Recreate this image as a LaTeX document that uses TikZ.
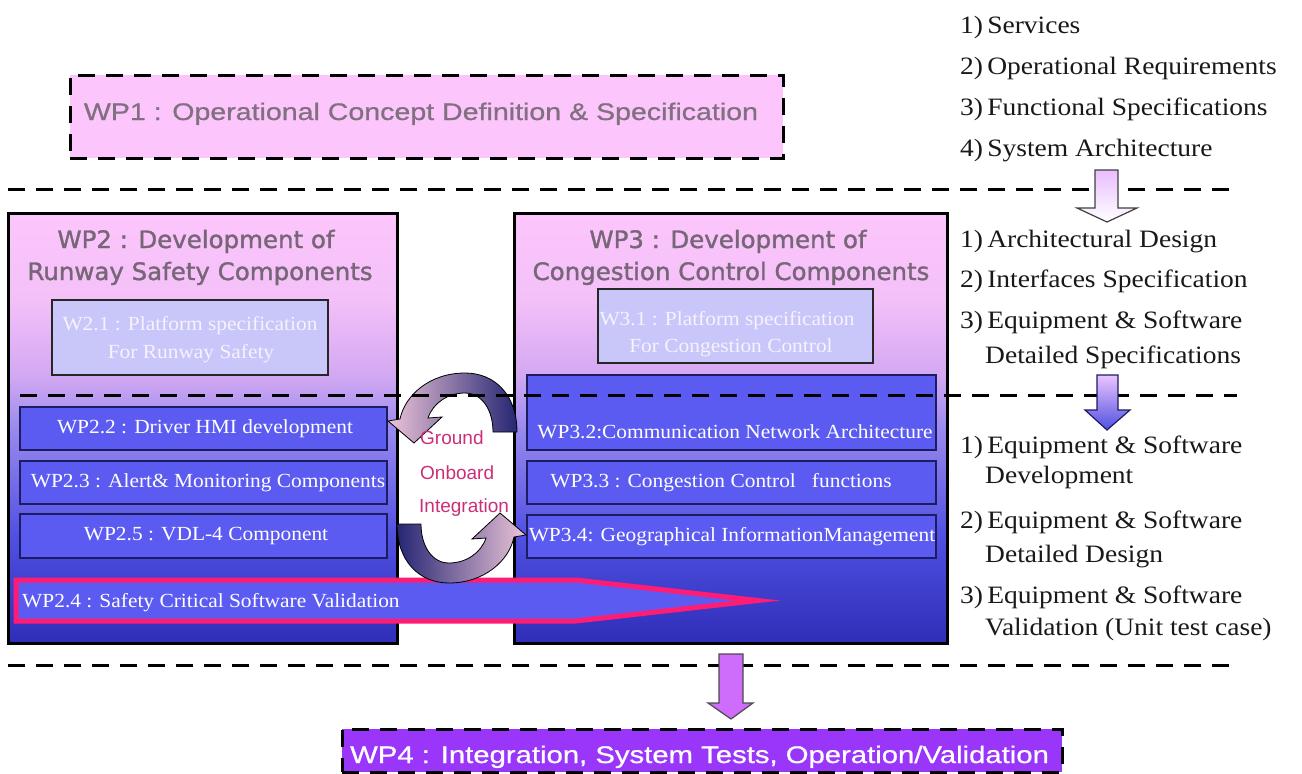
\documentclass[tikz,border=0pt]{standalone}
\usepackage{fontspec}
\newfontfamily\titlefont{DejaVu Sans}[FakeBold=1.4, FakeStretch=1.02]
\newfontfamily\headfont{Liberation Sans}[FakeStretch=1.19, FakeBold=0.8]
\newfontfamily\headfontw{Liberation Sans}[FakeStretch=1.22, FakeBold=0.8]
\newfontfamily\boxfont{Liberation Serif}[FakeStretch=1.07]
\newfontfamily\listfont{Liberation Serif}[FakeStretch=1.1]
\newfontfamily\midfont{Liberation Sans}

\definecolor{wppink}{HTML}{FCC6FC}
\definecolor{wppinkb}{HTML}{F4C0F8}
\definecolor{wplav}{HTML}{D2A8F2}
\definecolor{wpmid}{HTML}{9A8AEE}
\definecolor{wpblue}{HTML}{5050E2}
\definecolor{wpbot}{HTML}{2E2EB8}
\definecolor{taskblue}{HTML}{5B5BF2}
\definecolor{navyedge}{HTML}{1C1C60}
\definecolor{speclav}{HTML}{C9C7FA}
\definecolor{spectxt}{HTML}{F6F2FF}
\definecolor{titlegray}{HTML}{776677}
\definecolor{headgray}{HTML}{807080}
\definecolor{loopred}{HTML}{CC2F78}
\definecolor{loopnavy}{HTML}{262673}
\definecolor{looppink}{HTML}{ECC4D8}
\definecolor{arrowpink}{HTML}{FF1C74}
\definecolor{wpviolet}{HTML}{9A36FA}
\definecolor{stepviolet}{HTML}{CE6CFC}

% package box fill: pink at the top, deep blue at the bottom
\pgfdeclareverticalshading{wpfade}{100bp}{color(0bp)=(wpbot); color(25bp)=(wpbot); color(37.5bp)=(wpblue); color(50bp)=(wpmid); color(56bp)=(wplav); color(65bp)=(wppinkb); color(75bp)=(wppink); color(100bp)=(wppink)}

\begin{document}
\begin{tikzpicture}[x=1pt,y=-1pt,
  wpdash/.style={dash pattern=on 17pt off 11pt, line width=3pt},
  pkgbox/.style={draw=black, line width=3pt, shading=wpfade, inner sep=0pt},
  wpbox/.style={draw=black, wpdash, inner sep=0pt},
  taskbox/.style={draw=navyedge, line width=1.8pt, fill=taskblue, inner sep=0pt},
  specbox/.style={draw=black!85, line width=2pt, fill=speclav, inner sep=0pt},
  tasktext/.style={text=white, font=\boxfont\fontsize{20}{24}\selectfont, inner sep=0pt},
  spectext/.style={text=spectxt, font=\boxfont\fontsize{20}{24}\selectfont, inner sep=0pt, anchor=base},
  titletext/.style={text=titlegray, font=\titlefont\fontsize{24}{28}\selectfont, inner sep=0pt, anchor=base},
  listtext/.style={text=black!90, font=\listfont\fontsize{25}{30}\selectfont, inner sep=0pt, anchor=base west},
  looptext/.style={text=loopred, font=\midfont\fontsize{19}{22}\selectfont, inner sep=0pt, anchor=base west},
  blockarrow/.style={line width=1.2pt, line join=miter},
  looparrow/.style={draw=black, line width=0.8pt},
]
\useasboundingbox (0,0) rectangle (1302,774);
\fill[white] (0,0) rectangle (1302,774);

% ---------- WP1 ----------
\node[wpbox, fill=wppink, minimum width=713pt, minimum height=83pt] (wp1) at (426.5,116.5) {};
\node[anchor=base, text=headgray, font=\headfont\fontsize{24}{28}\selectfont, inner sep=0pt] (wp1t) at (421,120) {WP1 : Operational Concept Definition \& Specification};

% ---------- phase list ----------
\node[listtext] (la1) at (960,33) {1)\,Services};
\node[listtext] (la2) at (960,74) {2)\,Operational Requirements};
\node[listtext] (la3) at (960,115) {3)\,Functional Specifications};
\node[listtext] (la4) at (960,156) {4)\,System Architecture};

\node[listtext] (lb1) at (960,247) {1)\,Architectural Design};
\node[listtext] (lb2) at (960,287) {2)\,Interfaces Specification};
\node[listtext] (lb3) at (960,328) {3)\,Equipment \& Software};
\node[listtext] (lb3b) at (985,363) {Detailed Specifications};

\node[listtext] (lc1) at (960,453) {1)\,Equipment \& Software};
\node[listtext] (lc1b) at (985,483) {Development};
\node[listtext] (lc2) at (960,528) {2)\,Equipment \& Software};
\node[listtext] (lc2b) at (985,562) {Detailed Design};
\node[listtext] (lc3) at (960,603) {3)\,Equipment \& Software};
\node[listtext] (lc3b) at (985,635) {Validation (Unit test case)};

% ---------- separator 1 and first phase arrow ----------
\coordinate (sepAa) at (8,189);
\coordinate (sepAb) at (1237,189);
\draw[wpdash] (sepAa) -- (sepAb);
\path[blockarrow, draw=black!75, top color=stepviolet!45, bottom color=white]
  (1095,170) -- (1118,170) -- (1118,208) -- (1137,208) -- (1107,222) -- (1077,208) -- (1095,208) -- cycle;

% ---------- WP2 and WP3 ----------
\node[pkgbox, minimum width=389pt, minimum height=430pt] (wp2) at (202.5,428) {};
\node[pkgbox, minimum width=433pt, minimum height=430pt] (wp3) at (730.5,428) {};

\node[titletext] (wp2ta) at (196,248) {WP2 : Development of};
\node[titletext] (wp2tb) at (200,280) {Runway Safety Components};
\node[titletext] (wp3ta) at (728,248) {WP3 : Development of};
\node[titletext] (wp3tb) at (731,280) {Congestion Control Components};

\node[specbox, minimum width=276pt, minimum height=75pt] (w21) at (190,337.5) {};
\node[spectext] (w21a) at (190,330) {W2.1 : Platform specification};
\node[spectext] (w21b) at (191,358) {For Runway Safety};
\node[specbox, minimum width=275pt, minimum height=74pt] (w31) at (735.5,326) {};
\node[spectext] (w31a) at (727,325) {W3.1 : Platform specification};
\node[spectext] (w31b) at (731,352) {For Congestion Control};

\node[taskbox, minimum width=367pt, minimum height=43pt] (wp22) at (203.5,428.5) {};
\node[taskbox, minimum width=367pt, minimum height=43pt] (wp23) at (203.5,482.5) {};
\node[taskbox, minimum width=367pt, minimum height=44pt] (wp25) at (203.5,536) {};
\node[tasktext] (wp22t) at (205,428.5) {WP2.2 : Driver HMI development};
\node[tasktext] (wp23t) at (208,482.5) {WP2.3 : Alert\& Monitoring Components};
\node[tasktext] (wp25t) at (206,536) {WP2.5 : VDL-4 Component};

\node[taskbox, minimum width=409pt, minimum height=75pt] (wp32) at (731.5,412.5) {};
\node[taskbox, minimum width=409pt, minimum height=43pt] (wp33) at (731.5,482.5) {};
\node[taskbox, minimum width=409pt, minimum height=43pt] (wp34) at (731.5,536.5) {};
\node[tasktext] (wp32t) at (735,432) {WP3.2:Communication Network Architecture};
\node[tasktext] (wp33t) at (721,482.5) {WP3.3 : Congestion Control\ \ \ functions};
\node[tasktext] (wp34t) at (732,536.5) {WP3.4: Geographical InformationManagement};

% ---------- WP2.4 validation arrow ----------
\path[draw=arrowpink, line width=5pt, line join=miter, fill=taskblue]
  (16,580) -- (576,580) -- (758,600.5) -- (576,621) -- (16,621) -- cycle;
\node[tasktext, anchor=base west] (wp24t) at (22,607) {WP2.4 : Safety Critical Software Validation};

% ---------- ground / onboard integration loop ----------
\path[looparrow, left color=looppink, right color=loopnavy]
  (517,432) .. controls (517,395) and (495,373) .. (465,373)
  .. controls (430,373) and (405,395) .. (400,419)
  -- (388,421) -- (414,443) -- (442,417) -- (428,418)
  .. controls (433,403) and (448,393) .. (465,393)
  .. controls (482,393) and (493,410) .. (493,432) -- cycle;
\path[looparrow, left color=loopnavy, right color=looppink]
  (397,524) .. controls (397,561) and (419,583) .. (449,583)
  .. controls (484,583) and (509,561) .. (514,537)
  -- (526,535) -- (500,513) -- (472,539) -- (486,538)
  .. controls (481,553) and (466,563) .. (449,563)
  .. controls (432,563) and (421,546) .. (421,524) -- cycle;
\node[looptext] (lpg) at (420,444) {Ground};
\node[looptext] (lpo) at (420,479) {Onboard};
\node[looptext] (lpi) at (419,512) {Integration};

% ---------- separator 2 and second phase arrow ----------
\coordinate (sepBa) at (20,395);
\coordinate (sepBb) at (1237,395);
\draw[wpdash] (sepBa) -- (sepBb);
\path[blockarrow, draw=navyedge, top color=stepviolet!40, bottom color=wpblue]
  (1097,375) -- (1118,375) -- (1118,410) -- (1130,410) -- (1107,430) -- (1085,410) -- (1097,410) -- cycle;

% ---------- separator 3, arrow into WP4 ----------
\coordinate (sepCa) at (8,665);
\coordinate (sepCb) at (1237,665);
\draw[wpdash] (sepCa) -- (sepCb);
\path[blockarrow, draw=black!70, fill=stepviolet]
  (719,654) -- (743,654) -- (743,703) -- (753,703) -- (731,719) -- (708,703) -- (719,703) -- cycle;

% ---------- WP4 ----------
\node[wpbox, fill=wpviolet, minimum width=720pt, minimum height=43pt] (wp4) at (702,750.5) {};
\node[anchor=base west, text=white, font=\headfontw\fontsize{24}{28}\selectfont, inner sep=0pt] (wp4t) at (350,763) {WP4 : Integration, System Tests, Operation/Validation};
\end{tikzpicture}
\end{document}
